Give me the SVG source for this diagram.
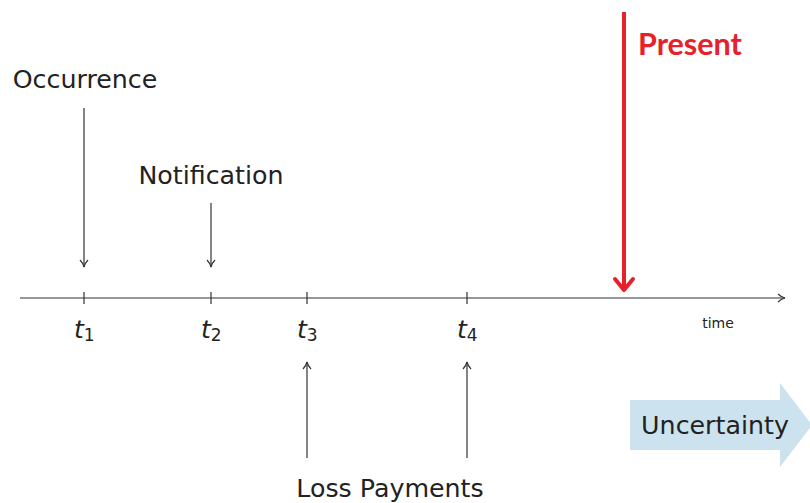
<svg xmlns="http://www.w3.org/2000/svg" width="810" height="503" viewBox="0 0 810 503">
<defs>
<style>
.lbl{font-family:"DejaVu Sans","Liberation Sans",sans-serif;font-size:25.3px;fill:#222;}
.t{font-family:"DejaVu Sans","Liberation Sans",sans-serif;font-size:25px;font-style:italic;fill:#222;}
.sub{font-style:normal;font-size:17px;}
.ln{stroke:#333;stroke-width:1.2;fill:none;}
</style>
<marker id="ah" markerWidth="10" markerHeight="10" refX="9" refY="5" orient="auto" markerUnits="userSpaceOnUse">
<path d="M2,1 Q5,4 9,5 Q5,6 2,9" fill="none" stroke="#333" stroke-width="1.2"/>
</marker>
</defs>
<g id="uncertainty">
<polygon points="630,400 780,400 780,383 812,425 780,467 780,450 630,450" fill="#cce2ee"/>
<text class="lbl" x="715" y="434" text-anchor="middle">Uncertainty</text>
</g>
<g id="connectors">
<line class="ln" x1="20" y1="298" x2="785" y2="298" marker-end="url(#ah)"/>
<line class="ln" x1="84" y1="292" x2="84" y2="304"/>
<line class="ln" x1="211" y1="292" x2="211" y2="304"/>
<line class="ln" x1="307" y1="292" x2="307" y2="304"/>
<line class="ln" x1="467" y1="292" x2="467" y2="304"/>
<line class="ln" x1="84" y1="108" x2="84" y2="267" marker-end="url(#ah)"/>
<line class="ln" x1="211" y1="203" x2="211" y2="267" marker-end="url(#ah)"/>
<line class="ln" x1="307" y1="458" x2="307" y2="362" marker-end="url(#ah)"/>
<line class="ln" x1="467" y1="458" x2="467" y2="362" marker-end="url(#ah)"/>
<line x1="624" y1="12" x2="624" y2="289" stroke="#e8202a" stroke-width="4"/>
<path d="M615,279 L624,290 L633,279" fill="none" stroke="#e8202a" stroke-width="4" stroke-linecap="round" stroke-linejoin="round"/>
</g>
<g id="occurrence"><text class="lbl" x="85" y="88" text-anchor="middle">Occurrence</text></g>
<g id="notification"><text class="lbl" x="211" y="184" text-anchor="middle">Notification</text></g>
<g id="present"><text x="638" y="55" font-family="Lato,'Liberation Sans',sans-serif" font-weight="bold" font-size="30.5" fill="#e8202a">Present</text></g>
<g id="ticks">
<text class="t" x="74" y="338">t<tspan class="sub" dy="3">1</tspan></text>
<text class="t" x="201" y="338">t<tspan class="sub" dy="3">2</tspan></text>
<text class="t" x="297" y="338">t<tspan class="sub" dy="3">3</tspan></text>
<text class="t" x="457" y="338">t<tspan class="sub" dy="3">4</tspan></text>
<text x="718" y="328" text-anchor="middle" font-family="'DejaVu Sans','Liberation Sans',sans-serif" font-size="14" fill="#222">time</text>
</g>
<g id="loss"><text class="lbl" x="390" y="497" text-anchor="middle">Loss Payments</text></g>
</svg>
